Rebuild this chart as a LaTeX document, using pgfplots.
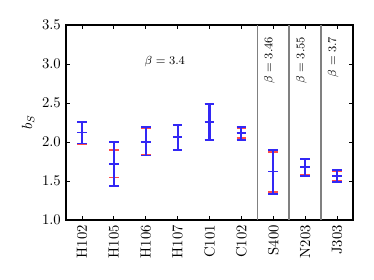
\documentclass[border=0pt]{standalone}
\usepackage{pgfplots}
\pgfplotsset{compat=1.18}
\definecolor{ered}{RGB}{255,75,75}
\definecolor{eblue}{RGB}{50,40,245}

\begin{document}
\begin{tikzpicture}
\begin{axis}[
  name=ax,
  scale only axis,
  width=195.2pt, height=132.6pt,
  xmin=-0.5, xmax=8.5,
  ymin=1.0, ymax=3.5,
  xtick={0,1,2,3,4,5,6,7,8},
  xticklabels={H102,H105,H106,H107,C101,C102,S400,N203,J303},
  xticklabel style={rotate=90, anchor=east},
  ytick={1.0,1.5,2.0,2.5,3.0,3.5},
  yticklabel style={/pgf/number format/.cd, fixed, fixed zerofill, precision=1},
  tick align=inside,
  xtick pos=both, ytick pos=both,
  major tick length=2.8pt,
  every tick/.style={black, line width=0.6pt},
  axis line style={black, line width=0.9pt},
  ylabel={$b_S$},
  ylabel style={at={(axis description cs:-0.132,0.5)}, anchor=center},
  unbounded coords=jump,
  clip=false,
]
\addplot[gray, line width=1pt] coordinates {(5.5,1.0) (5.5,3.5)};
\addplot[gray, line width=1pt] coordinates {(6.5,1.0) (6.5,3.5)};
\addplot[gray, line width=1pt] coordinates {(7.5,1.0) (7.5,3.5)};

% red series: caps at hi and lo (its bars and centres lie under the blue ones)
\addplot[ered, line width=1.2pt, line cap=butt] coordinates {
(-0.15,2.260) (0.15,2.260) (0,nan) (-0.15,1.974) (0.15,1.974) (0,nan)
(0.85,1.893) (1.15,1.893) (1,nan) (0.85,1.543) (1.15,1.543) (1,nan)
(1.85,2.176) (2.15,2.176) (2,nan) (1.85,1.838) (2.15,1.838) (2,nan)
(2.85,2.222) (3.15,2.222) (3,nan) (2.85,1.897) (3.15,1.897) (3,nan)
(3.85,2.483) (4.15,2.483) (4,nan) (3.85,2.030) (4.15,2.030) (4,nan)
(4.85,2.176) (5.15,2.176) (5,nan) (4.85,2.050) (5.15,2.050) (5,nan)
(5.85,1.876) (6.15,1.876) (6,nan) (5.85,1.363) (6.15,1.363) (6,nan)
(6.85,1.775) (7.15,1.775) (7,nan) (6.85,1.575) (7.15,1.575) (7,nan)
(7.85,1.630) (8.15,1.630) (8,nan) (7.85,1.500) (8.15,1.500)
};

% blue series: vertical bars (lo to hi)
\addplot[eblue, line width=1.4pt, line cap=butt] coordinates {
(0,1.980) (0,2.255) (0,nan)
(1,1.436) (1,1.996) (1,nan)
(2,1.825) (2,2.188) (2,nan)
(3,1.897) (3,2.222) (3,nan)
(4,2.030) (4,2.483) (4,nan)
(5,2.026) (5,2.190) (5,nan)
(6,1.337) (6,1.900) (6,nan)
(7,1.568) (7,1.778) (7,nan)
(8,1.490) (8,1.637)
};
% blue series: caps at hi and lo, and centre marks
\addplot[eblue, line width=1.2pt, line cap=butt] coordinates {
(-0.15,2.255) (0.15,2.255) (0,nan) (-0.15,1.980) (0.15,1.980) (0,nan) (-0.15,2.120) (0.15,2.120) (0,nan)
(0.85,1.996) (1.15,1.996) (1,nan) (0.85,1.436) (1.15,1.436) (1,nan) (0.85,1.714) (1.15,1.714) (1,nan)
(1.85,2.188) (2.15,2.188) (2,nan) (1.85,1.825) (2.15,1.825) (2,nan) (1.85,2.004) (2.15,2.004) (2,nan)
(2.85,2.222) (3.15,2.222) (3,nan) (2.85,1.897) (3.15,1.897) (3,nan) (2.85,2.060) (3.15,2.060) (3,nan)
(3.85,2.483) (4.15,2.483) (4,nan) (3.85,2.030) (4.15,2.030) (4,nan) (3.85,2.256) (4.15,2.256) (4,nan)
(4.85,2.190) (5.15,2.190) (5,nan) (4.85,2.026) (5.15,2.026) (5,nan) (4.85,2.110) (5.15,2.110) (5,nan)
(5.85,1.900) (6.15,1.900) (6,nan) (5.85,1.337) (6.15,1.337) (6,nan) (5.85,1.620) (6.15,1.620) (6,nan)
(6.85,1.778) (7.15,1.778) (7,nan) (6.85,1.568) (7.15,1.568) (7,nan) (6.85,1.675) (7.15,1.675) (7,nan)
(7.85,1.637) (8.15,1.637) (8,nan) (7.85,1.490) (8.15,1.490) (8,nan) (7.85,1.568) (8.15,1.568)
};

\node[font=\fontsize{8.5}{10}\selectfont] at (axis cs:2.60,3.03) {$\beta = 3.4$};
\node[font=\fontsize{8.5}{10}\selectfont, rotate=90] at (axis cs:5.88,3.05) {$\beta = 3.46$};
\node[font=\fontsize{8.5}{10}\selectfont, rotate=90] at (axis cs:6.88,3.05) {$\beta = 3.55$};
\node[font=\fontsize{8.5}{10}\selectfont, rotate=90] at (axis cs:7.88,3.09) {$\beta = 3.7$};
\end{axis}
\path ([xshift=-44.9pt, yshift=-40.8pt]ax.south west) rectangle ([xshift=14.3pt, yshift=17pt]ax.north east);
\end{tikzpicture}
\end{document}
